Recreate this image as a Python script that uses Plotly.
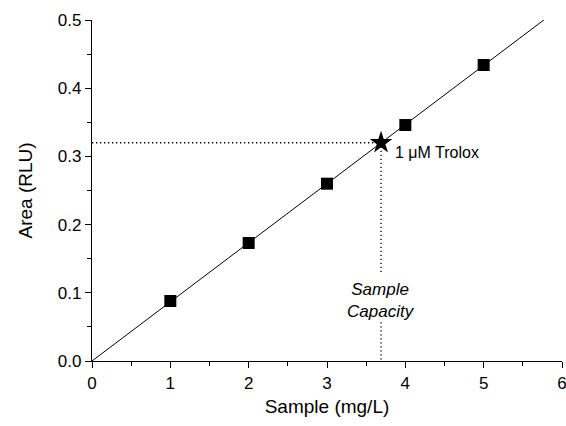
import plotly.graph_objects as go

# data
conc = [1, 2, 3, 4, 5]
area = [0.088, 0.173, 0.260, 0.346, 0.434]
fit_x = [0, 5.77]
trolox_x = 3.69
trolox_y = 0.320
gap_top = 0.129      # where the vertical dotted line stops above the label
gap_bottom = 0.057   # where it resumes below the label
x_ticks = [0, 1, 2, 3, 4, 5, 6]
y_ticks = [0.0, 0.1, 0.2, 0.3, 0.4, 0.5]
y_tick_text = ["0.0", "0.1", "0.2", "0.3", "0.4", "0.5"]

slope = sum(a * b for a, b in zip(conc, area)) / sum(a * a for a in conc)
fit_y = [slope * v for v in fit_x]

FONT = "Liberation Sans, Arial, sans-serif"
DOT = "1.3px,2.7px"

fig = go.Figure()
fig.add_trace(go.Scatter(x=fit_x, y=fit_y, mode="lines",
                         line=dict(color="black", width=1), showlegend=False))
fig.add_trace(go.Scatter(x=[0, trolox_x], y=[trolox_y, trolox_y], mode="lines",
                         line=dict(color="black", width=1.3, dash=DOT), showlegend=False))
fig.add_trace(go.Scatter(x=[trolox_x, trolox_x], y=[trolox_y, gap_top], mode="lines",
                         line=dict(color="black", width=1.3, dash=DOT), showlegend=False))
fig.add_trace(go.Scatter(x=[trolox_x, trolox_x], y=[gap_bottom, 0], mode="lines",
                         line=dict(color="black", width=1.3, dash=DOT), showlegend=False))
fig.add_trace(go.Scatter(x=conc, y=area, mode="markers",
                         marker=dict(symbol="square", size=12, color="black"), showlegend=False))
fig.add_trace(go.Scatter(x=[trolox_x], y=[trolox_y], mode="markers",
                         marker=dict(symbol="star", size=17, color="black"), showlegend=False))

fig.add_annotation(x=trolox_x, y=trolox_y, xref="x", yref="y", text="1 μM Trolox",
                   showarrow=False, xanchor="left", yanchor="middle",
                   xshift=12, yshift=-10, font=dict(family=FONT, size=16, color="black"))
fig.add_annotation(x=trolox_x, y=(gap_top + gap_bottom) / 2, xref="x", yref="y",
                   text="<i>Sample</i><br><i>Capacity</i>", showarrow=False,
                   xanchor="center", yanchor="middle", yshift=-3,
                   font=dict(family=FONT, size=17, color="black"))

axis_common = dict(showline=True, linecolor="black", linewidth=1.3, ticks="outside",
                   ticklen=6, tickwidth=1.3, tickcolor="black", showgrid=False,
                   zeroline=False, tickfont=dict(family=FONT, size=17, color="black"),
                   mirror=False, automargin=False, ticklabeloverflow="allow")

fig.update_xaxes(range=[0, 6], tickvals=x_ticks,
                 minor=dict(ticks="outside", ticklen=4, tickwidth=1.3, tickcolor="black", dtick=0.5, tick0=0),
                 title=dict(text="Sample (mg/L)", font=dict(family=FONT, size=19, color="black"), standoff=8),
                 **axis_common)
fig.update_yaxes(range=[0, 0.5], tickvals=y_ticks, ticktext=y_tick_text,
                 minor=dict(ticks="outside", ticklen=4, tickwidth=1.3, tickcolor="black", dtick=0.05, tick0=0),
                 title=dict(text="Area (RLU)", font=dict(family=FONT, size=19, color="black"), standoff=20),
                 **axis_common)

fig.update_layout(width=566, height=426, margin=dict(l=92, r=4, t=20, b=65),
                  paper_bgcolor="white", plot_bgcolor="white",
                  font=dict(family=FONT, color="black"))

fig.write_html("out.html", config={"displayModeBar": False},
               post_script="document.body.style.margin='0';document.body.style.overflow='hidden';")
